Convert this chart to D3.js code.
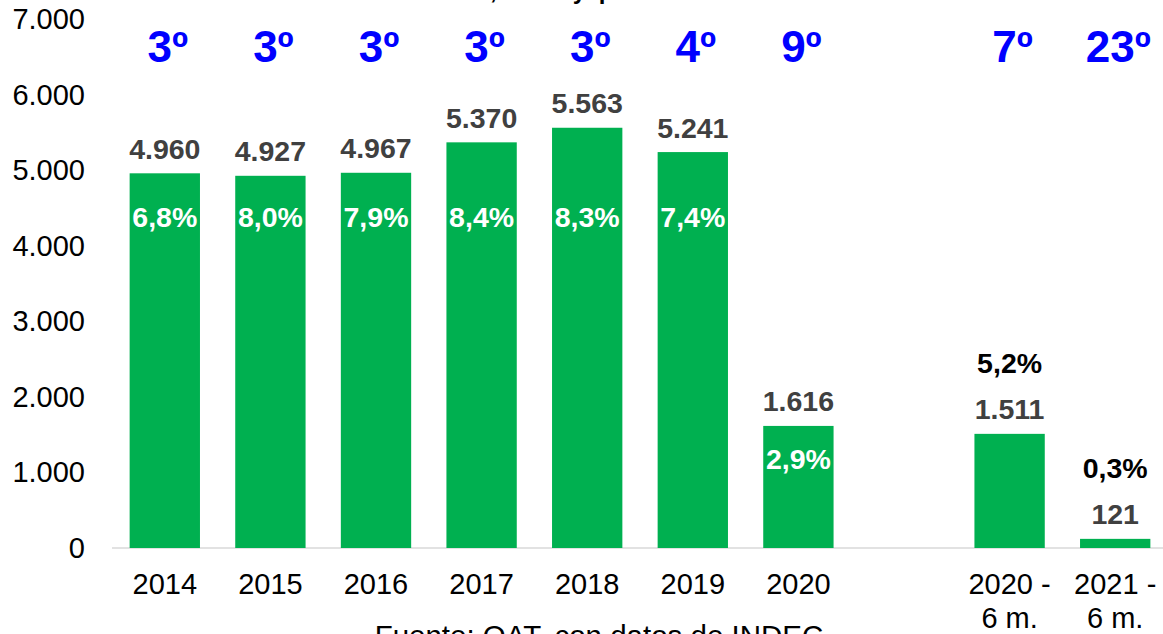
<!DOCTYPE html>
<html>
<head>
<meta charset="utf-8">
<script src="https://cdn.jsdelivr.net/npm/d3@7"></script>
<style>
  html, body { margin: 0; padding: 0; background: #fff; }
  svg { display: block; font-family: Arial, "Liberation Sans", sans-serif; }
</style>
</head>
<body>
<svg id="chart" width="1163" height="634"></svg>
<script>
// ---- data ----
const categories = ["2014", "2015", "2016", "2017", "2018", "2019", "2020", "2020 -\n6 m.", "2021 -\n6 m."];
const values = [4960, 4927, 4967, 5370, 5563, 5241, 1616, 1511, 121];
const shares = [6.8, 8.0, 7.9, 8.4, 8.3, 7.4, 2.9, 5.2, 0.3];
const ranks = [3, 3, 3, 3, 3, 4, 9, 7, 23];
const partial = [false, false, false, false, false, false, false, true, true];
const yTicks = [0, 1000, 2000, 3000, 4000, 5000, 6000, 7000];
const titleText = "Millones de dólares, total y posición";
const sourceText = "Fuente: OAT, con datos de INDEC";

// ---- setup ----
const W = 1163, H = 634;
const svg = d3.select("#chart");
const loc = d3.formatLocale({ decimal: ",", thousands: ".", grouping: [3], currency: ["$", ""] });
const fmtInt = loc.format(",d");
const fmtPct = v => loc.format(".1f")(v) + "%";

// domain with a spacer slot between annual and partial periods
const firstPartial = partial.indexOf(true);
const domain = categories.slice(0, firstPartial).concat(["__gap__"], categories.slice(firstPartial));

const x = d3.scaleBand().domain(domain).range([112, 1168]).paddingInner(0.334).paddingOuter(0.167);
const y = d3.scaleLinear().domain([0, 7000]).range([548, 19.2]);

const rows = categories.map((c, i) => ({ c, v: values[i], s: shares[i], r: ranks[i], p: partial[i] }));

// title (clipped at the top edge, as in the reference)
const title = svg.append("text")
  .attr("y", -1)
  .attr("font-size", 24).attr("font-weight", "bold").attr("fill", "#000")
  .attr("word-spacing", 6)
  .text(titleText);
const commaIdx = titleText.indexOf(",");
const preW = title.node().getSubStringLength(0, commaIdx);
title.attr("x", 490 - preW);

// y axis labels
const yAxis = d3.axisLeft(y).tickValues(yTicks).tickSize(0).tickPadding(0).tickFormat(d => fmtInt(d));
const gy = svg.append("g").attr("transform", "translate(85,0)").call(yAxis);
gy.select(".domain").remove();
gy.selectAll("text").attr("font-size", 29).attr("fill", "#000").attr("font-family", "Arial, 'Liberation Sans', sans-serif");

// baseline
svg.append("line")
  .attr("x1", 112).attr("x2", W).attr("y1", y(0)).attr("y2", y(0))
  .attr("stroke", "#d9d9d9").attr("stroke-width", 1.5);

// bars
svg.append("g").selectAll("rect").data(rows).join("rect")
  .attr("x", d => x(d.c))
  .attr("width", x.bandwidth())
  .attr("y", d => y(d.v))
  .attr("height", d => y(0) - y(d.v))
  .attr("fill", "#00B050");

// value labels
svg.append("g").selectAll("text").data(rows).join("text")
  .attr("x", d => x(d.c) + x.bandwidth() / 2)
  .attr("y", d => y(d.v) - 14.5)
  .attr("text-anchor", "middle")
  .attr("font-size", 28.5).attr("font-weight", "bold").attr("fill", "#404040")
  .text(d => fmtInt(d.v));

// share labels
svg.append("g").selectAll("text").data(rows).join("text")
  .attr("x", d => x(d.c) + x.bandwidth() / 2)
  .attr("y", d => d.p ? y(d.v) - 14.5 - 46 : Math.max(y(d.v) + 43, y(4250)))
  .attr("text-anchor", "middle")
  .attr("font-size", 28.5).attr("font-weight", "bold")
  .attr("fill", d => d.p ? "#000" : "#fff")
  .text(d => fmtPct(d.s));

// rank labels
svg.append("g").selectAll("text").data(rows).join("text")
  .attr("x", d => x(d.c) + x.bandwidth() / 2 + 3)
  .attr("y", 62)
  .attr("text-anchor", "middle")
  .attr("font-size", 44).attr("font-weight", "bold").attr("fill", "#0000FF")
  .text(d => d.r + "º");

// category labels
const cat = svg.append("g").selectAll("text").data(rows).join("text")
  .attr("text-anchor", "middle")
  .attr("font-size", 29).attr("fill", "#000");
cat.each(function(d) {
  const t = d3.select(this);
  const cx = x(d.c) + x.bandwidth() / 2;
  d.c.split("\n").forEach((line, i) => {
    t.append("tspan").attr("x", cx).attr("y", 594 + i * 34).text(line);
  });
});

// source
svg.append("text")
  .attr("x", 599).attr("y", 646)
  .attr("text-anchor", "middle")
  .attr("font-size", 29.5).attr("fill", "#000")
  .text(sourceText);
</script>
</body>
</html>
